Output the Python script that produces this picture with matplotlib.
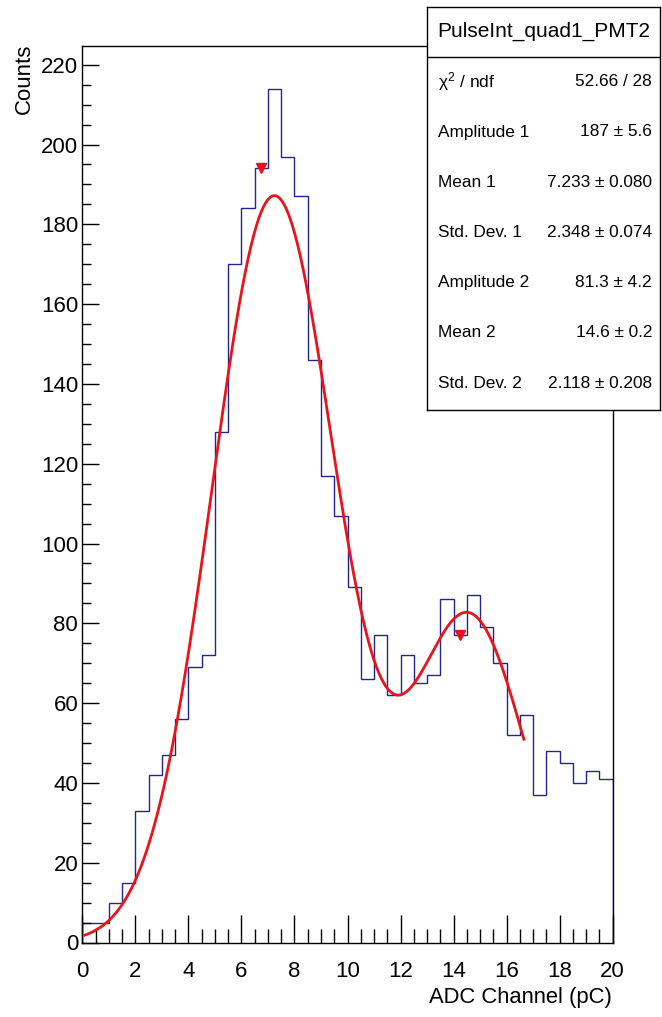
import numpy as np
import matplotlib
matplotlib.use("Agg")
import matplotlib.pyplot as plt
from matplotlib.ticker import MultipleLocator

plt.rcParams['font.family'] = ['Liberation Sans', 'DejaVu Sans']
plt.rcParams['mathtext.fontset'] = 'custom'
plt.rcParams['mathtext.rm'] = 'Liberation Sans'
plt.rcParams['mathtext.it'] = 'Liberation Sans'

# histogram: 40 bins of 0.5 pC from 0 to 20
bin_lo, bin_hi, n_bins = 0.0, 20.0, 40
counts = [5, 5, 10, 15, 33, 42, 47, 56, 69, 72,
          128, 170, 184, 194, 214, 197, 187, 146, 117, 107,
          89, 66, 77, 62, 72, 65, 67, 86, 77, 87,
          79, 70, 52, 57, 37, 48, 45, 40, 43, 41]

# double gaussian fit result
fit_names = ["Amplitude 1", "Mean 1", "Std. Dev. 1", "Amplitude 2", "Mean 2", "Std. Dev. 2"]
fit_vals = [187.0, 7.233, 2.348, 81.3, 14.6, 2.118]
fit_texts = ["187 \u00b1 5.6", "7.233 \u00b1 0.080", "2.348 \u00b1 0.074",
             "81.3 \u00b1 4.2", "14.6 \u00b1 0.2", "2.118 \u00b1 0.208"]
fit_range = (0.1, 16.65)
chi2_text = "52.66 / 28"
hist_name = "PulseInt_quad1_PMT2"

# peak markers
peak_x = [6.75, 14.25]
peak_y = [194, 77]

W, H = 662, 1017


def px(x):
    return x / W


def py(y):
    return 1 - y / H


fig = plt.figure(figsize=(W / 100, H / 100), dpi=100)
ax = fig.add_axes([px(82.3), py(942.5), px(612.7) - px(82.3), py(46) - py(942.5)])

edges = np.linspace(bin_lo, bin_hi, n_bins + 1)
ax.stairs(counts, edges, color='#24248f', linewidth=1.0)

a1, m1, s1, a2, m2, s2 = fit_vals
xf = np.linspace(fit_range[0], fit_range[1], 500)
yf = a1 * np.exp(-0.5 * ((xf - m1) / s1) ** 2) + a2 * np.exp(-0.5 * ((xf - m2) / s2) ** 2)
ax.plot(xf, yf, color='#e8141c', linewidth=2.0)

ax.plot(peak_x, peak_y, linestyle='none', marker='v', color='#e8141c', markersize=7)

ax.set_xlim(bin_lo, bin_hi)
ax.set_ylim(0, max(counts) * 1.05)
ax.xaxis.set_major_locator(MultipleLocator(2))
ax.xaxis.set_minor_locator(MultipleLocator(0.5))
ax.yaxis.set_major_locator(MultipleLocator(20))
ax.yaxis.set_minor_locator(MultipleLocator(5))
ax.tick_params(axis='x', which='major', direction='in', length=20, width=1, pad=13, labelsize=16)
ax.tick_params(axis='x', which='minor', direction='in', length=10, width=1)
ax.tick_params(axis='y', which='major', direction='in', length=12, width=1, pad=3, labelsize=16)
ax.tick_params(axis='y', which='minor', direction='in', length=6.7, width=1)
for sp in ax.spines.values():
    sp.set_linewidth(1.0)

fig.text(px(24), py(44), "Counts", rotation=90, ha='center', va='top', fontsize=16)
fig.text(px(612), py(998), "ADC Channel (pC)", ha='right', va='center', fontsize=15.8)

# stats box
box = fig.add_axes([px(427), py(410), px(660) - px(427), py(7) - py(410)])
box.set_xticks([])
box.set_yticks([])
box.set_xlim(427, 660)
box.set_ylim(410, 7)
box.set_facecolor('white')
for sp in box.spines.values():
    sp.set_linewidth(1.0)
box.axhline(57.3, color='black', linewidth=1.0)
box.text(544, 31, hist_name, ha='center', va='center', fontsize=15)
box.text(438, 82, r"$\chi^{2}$ / ndf", ha='left', va='center', fontsize=12.4)
box.text(652, 82, chi2_text, ha='right', va='center', fontsize=12.4)
for i, (name, txt) in enumerate(zip(fit_names, fit_texts)):
    yy = 132 + i * 50.2
    box.text(438, yy, name, ha='left', va='center', fontsize=12.4)
    box.text(652, yy, txt, ha='right', va='center', fontsize=12.4)

fig.savefig("out.png", dpi=100)
